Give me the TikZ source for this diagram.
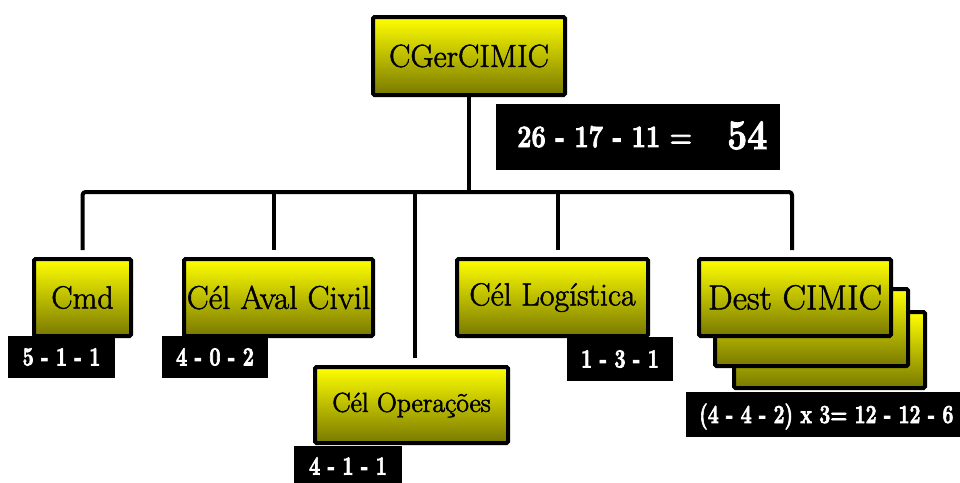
\documentclass[tikz,border=0pt]{standalone}
\usepackage{graphicx}
% bold figures set narrower than Latin Modern's extended bold
\newcommand{\narrowbf}[2]{\scalebox{#1}[1]{#2}}
% heavier strokes: fill and outline the glyphs with the given pen width
\newcommand{\inked}[2]{\special{pdf:literal 2 Tr #1 w}#2\special{pdf:literal 0 Tr}}
\begin{document}
\begin{tikzpicture}[x=1pt,y=-1pt,
  ybox/.style={draw=black, line width=4pt, rounded corners=1.5pt,
    top color={rgb,255:red,255;green,255;blue,0},
    middle color={rgb,255:red,232;green,232;blue,0},
    bottom color={rgb,255:red,120;green,120;blue,0},
    inner sep=0pt, text=black},
  tally/.style={fill=black, text=white, inner sep=0pt,
    font=\bfseries\fontsize{26}{28}\selectfont},
  conn/.style={draw=black, line width=4pt, line join=round}]
\useasboundingbox (0,0) rectangle (960,482);

% chief
\node[ybox, minimum width=192, minimum height=78, font=\fontsize{32}{34}\selectfont]
  (cg) at (469,56) {\inked{0.5}{CGerCIMIC}};
\node[fill=black, minimum width=284, minimum height=66, inner sep=0pt]
  (total) at (638,137) {};
\node[text=white, anchor=base west, inner sep=0pt, font=\bfseries\fontsize{31}{33}\selectfont]
  (totaltxt) at (517,147) {\narrowbf{0.82}{\inked{0.9}{26 - 17 - 11 =}}};
\node[text=white, anchor=base west, inner sep=0pt, font=\bfseries\fontsize{42}{44}\selectfont]
  (totalval) at (727,149) {\narrowbf{0.85}{\inked{1}{54}}};

% Dest CIMIC stack, back to front
\node[ybox, minimum width=191, minimum height=76] (dest3) at (829.5,350) {};
\node[ybox, minimum width=193, minimum height=77] (dest2) at (811.5,327.5) {};
\node[ybox, minimum width=192, minimum height=77, font=\fontsize{35}{37}\selectfont]
  (dest) at (795,297.5) {\inked{0.5}{Dest CIMIC}};

% first-level cells
\node[ybox, minimum width=97, minimum height=77, font=\fontsize{32}{34}\selectfont]
  (cmd) at (82.5,297.5) {\inked{0.5}{Cmd}};
\node[ybox, minimum width=189, minimum height=77, font=\fontsize{33}{35}\selectfont]
  (aval) at (278.5,297.5) {\inked{0.5}{Cél Aval Civil}};
\node[ybox, minimum width=193, minimum height=76, font=\fontsize{27.5}{29}\selectfont]
  (ops) at (411.5,405) {\inked{0.6}{Cél Operações}};
\node[ybox, minimum width=191, minimum height=77, font=\fontsize{32}{34}\selectfont]
  (log) at (552.5,297.5) {\inked{0.5}{Cél Logística}};

% tallies
\node[tally, minimum width=107, minimum height=42] (tcmd) at (61.5,357) {\narrowbf{0.76}{\inked{0.9}{5 - 1 - 1}}};
\node[tally, minimum width=106, minimum height=42] (taval) at (215,357) {\narrowbf{0.76}{\inked{0.9}{4 - 0 - 2}}};
\node[tally, minimum width=106, minimum height=44] (tlog) at (620,359) {\narrowbf{0.76}{\inked{0.9}{1 - 3 - 1}}};
\node[tally, minimum width=108, minimum height=40] (tops) at (348,466) {\narrowbf{0.76}{\inked{0.9}{4 - 1 - 1}}};
\node[fill=black, minimum width=290, minimum height=45, inner sep=0pt]
  (tdest) at (831,414.5) {};
\node[text=white, anchor=base west, inner sep=0pt, font=\bfseries\fontsize{26}{28}\selectfont]
  (tdesttxt) at (699,423) {\narrowbf{0.75}{\inked{0.8}{(4 - 4 - 2) x 3= 12 - 12 - 6}}};

% connectors
\coordinate (bus) at (0,192);
\draw[conn] (cg.south) -- (cg.south |- bus);
\draw[conn, rounded corners=3pt]
  ([yshift=7pt]cmd.north) |- ([xshift=-3pt]dest.north |- bus)
  -- ([xshift=-3pt,yshift=7pt]dest.north);
\draw[conn] ([xshift=-5pt]aval.north |- bus) -- ([xshift=-5pt,yshift=7pt]aval.north);
\draw[conn] ([xshift=3.5pt]ops.north |- bus) -- ([xshift=3.5pt,yshift=7pt]ops.north);
\draw[conn] ([xshift=5.5pt]log.north |- bus) -- ([xshift=5.5pt,yshift=7pt]log.north);
\end{tikzpicture}
\end{document}
